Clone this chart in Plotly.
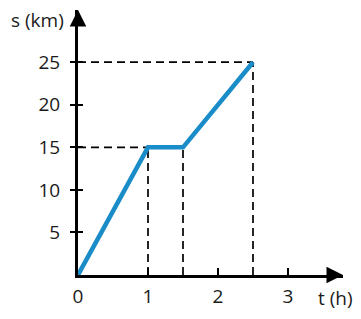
import plotly.graph_objects as go

# data
t_vals = [0, 1, 1.5, 2.5]
s_vals = [0, 15, 15, 25]
y_ticks = [5, 10, 15, 20, 25]
x_labels = ["0", "1", "2", "3"]
x_label_pos = [0, 1, 2, 3]

BLUE = "#1a8cc8"
FONT = "Open Sans"
TXT = "#1a1a1a"
FS = 19

fig = go.Figure()

# dashed guide lines (from the key points)
guides = [(1, 15), (1.5, 15), (2.5, 25)]
for (tx, sy) in guides:
    fig.add_trace(go.Scatter(x=[tx, tx], y=[0, sy], mode="lines",
                             line=dict(color="black", width=1.7, dash="8px,5px"),
                             hoverinfo="skip", showlegend=False))
for (tx, sy) in [(1, 15), (2.5, 25)]:
    fig.add_trace(go.Scatter(x=[0, tx], y=[sy, sy], mode="lines",
                             line=dict(color="black", width=1.7, dash="8px,5px"),
                             hoverinfo="skip", showlegend=False))

fig.add_trace(go.Scatter(x=t_vals, y=s_vals, mode="lines",
                         line=dict(color=BLUE, width=4.5),
                         showlegend=False, cliponaxis=False))

xmax = 265 / 70
ymax = 269 / 8.64

fig.update_layout(
    width=361, height=319,
    margin=dict(l=78, r=18, t=10, b=40),
    paper_bgcolor="white", plot_bgcolor="white",
    font=dict(family=FONT, size=FS, color=TXT),
    xaxis=dict(range=[0, xmax], showgrid=False, zeroline=False,
               showline=True, linecolor="black", linewidth=3,
               tickvals=x_label_pos, ticktext=x_labels,
               ticks="inside", ticklen=7, tickwidth=1.7, tickcolor="black",
               ticklabelstandoff=2),
    yaxis=dict(range=[0, ymax], showgrid=False, zeroline=False,
               showline=True, linecolor="black", linewidth=3,
               tickvals=y_ticks, ticks="outside", ticklen=5,
               tickwidth=1.7, tickcolor="black", ticklabelstandoff=6),
    yaxis2=dict(range=[0, ymax], overlaying="y", side="left", anchor="x",
                showgrid=False, zeroline=False, showline=False,
                tickvals=y_ticks, ticks="inside", ticklen=5, tickwidth=1.7,
                tickcolor="black", showticklabels=False),
)

# dummy trace for yaxis2 so it renders
fig.add_trace(go.Scatter(x=[0], y=[0], yaxis="y2", mode="markers",
                         marker=dict(opacity=0), hoverinfo="skip",
                         showlegend=False))

# arrowheads
fig.add_annotation(x=1.0, y=0, xref="paper", yref="paper", ax=-14, ay=0,
                   showarrow=True, arrowhead=2, arrowsize=1.1, arrowwidth=3,
                   arrowcolor="black", text="")
fig.add_annotation(x=0, y=1.0, xref="paper", yref="paper", ax=0, ay=14,
                   showarrow=True, arrowhead=2, arrowsize=1.1, arrowwidth=3,
                   arrowcolor="black", text="")

# axis titles
fig.add_annotation(x=(37 - 78) / 265, y=1 - (20 - 10) / 269, xref="paper", yref="paper",
                   text="s (km)", showarrow=False, xanchor="center", yanchor="middle",
                   font=dict(family=FONT, size=FS, color=TXT))
fig.add_annotation(x=(335 - 78) / 265, y=-(302 - 279) / 269, xref="paper", yref="paper",
                   text="t (h)", showarrow=False, xanchor="center", yanchor="middle",
                   font=dict(family=FONT, size=FS, color=TXT))

fig.write_html("out.html")
